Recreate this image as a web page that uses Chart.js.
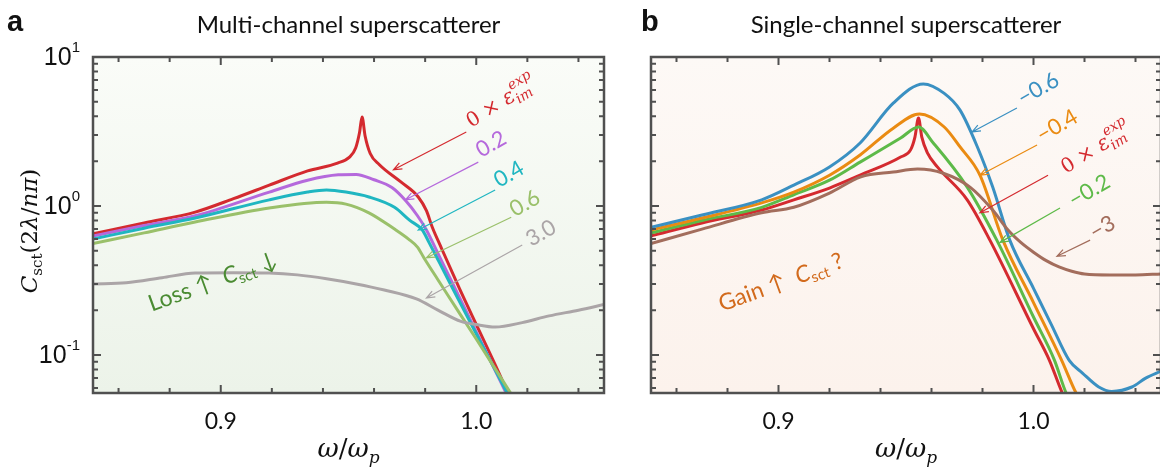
<!DOCTYPE html>
<html>
<head>
<meta charset="utf-8">
<title>Superscatterer spectra</title>
<script src="https://cdn.jsdelivr.net/npm/chart.js@4.4.1/dist/chart.umd.min.js"></script>
<style>
  html, body { margin: 0; padding: 0; background: #fff; overflow: hidden; }
  #wrap { position: relative; width: 1160px; height: 468px; overflow: hidden; }
  #chartA, #chartB { position: absolute; top: 0; }
  #chartA { left: 0; }
  #chartB { left: 620px; }
</style>
</head>
<body>
<div id="wrap">
  <canvas id="chartA" width="620" height="468"></canvas>
  <canvas id="chartB" width="545" height="468"></canvas>
</div>
<script>
// shared axes
const xRange = [0.85, 1.05];
const yRange = [0.0556, 10];
const xTickVals = [0.86, 0.88, 0.9, 0.92, 0.94, 0.96, 0.98, 1.0, 1.02, 1.04];
const xLabelled = [0.9, 1.0];
const yDecades = [-1, 0, 1];

const titleA = 'Multi-channel superscatterer';
const titleB = 'Single-channel superscatterer';

// panel a: loss added (factor x eps_im^exp)
const aRedW = [0.85, 0.87, 0.89, 0.905, 0.919, 0.934, 0.9457, 0.9504, 0.9528, 0.9543, 0.9553, 0.9565, 0.9585, 0.962, 0.9705, 0.9773, 0.9805, 0.9828, 0.9864, 0.9934, 1.0012, 1.009, 1.0135];
const aRedC = [0.65, 0.77, 0.91, 1.12, 1.38, 1.72, 1.94, 2.13, 2.45, 3.1, 3.95, 2.95, 2.25, 1.9, 1.45, 1.15, 0.93, 0.72, 0.52, 0.28, 0.145, 0.075, 0.05];
const aPurW = [0.85, 0.87, 0.89, 0.919, 0.934, 0.946, 0.953, 0.96, 0.967, 0.9725, 0.977, 0.9805, 0.985, 0.992, 1.0, 1.008, 1.0135];
const aPurC = [0.63, 0.74, 0.86, 1.24, 1.49, 1.62, 1.63, 1.50, 1.33, 1.08, 0.86, 0.69, 0.48, 0.273, 0.143, 0.075, 0.048];
const aTelW = [0.85, 0.87, 0.89, 0.919, 0.934, 0.9414, 0.949, 0.958, 0.968, 0.974, 0.9789, 0.9815, 0.9855, 0.991, 1.0, 1.008, 1.0135];
const aTelC = [0.60, 0.71, 0.83, 1.10, 1.24, 1.28, 1.24, 1.15, 0.98, 0.80, 0.69, 0.57, 0.42, 0.275, 0.139, 0.076, 0.05];
const aGrnW = [0.85, 0.87, 0.89, 0.919, 0.9414, 0.949, 0.958, 0.968, 0.9735, 0.977, 0.9795, 0.985, 0.9887, 1.0, 1.008, 1.0145];
const aGrnC = [0.56, 0.66, 0.78, 0.97, 1.06, 1.03, 0.90, 0.70, 0.60, 0.53, 0.45, 0.32, 0.255, 0.128, 0.078, 0.052];
const aGryW = [0.85, 0.863, 0.877, 0.89, 0.905, 0.919, 0.93, 0.9414, 0.953, 0.964, 0.9766, 0.985, 0.994, 1.0, 1.0074, 1.018, 1.0285, 1.04, 1.05];
const aGryC = [0.300, 0.305, 0.33, 0.355, 0.357, 0.355, 0.345, 0.325, 0.30, 0.273, 0.238, 0.20, 0.168, 0.16, 0.154, 0.165, 0.183, 0.20, 0.218];

// panel b: gain added
const bBluW = [0.85, 0.87, 0.8934, 0.906, 0.92, 0.932, 0.945, 0.9568, 0.965, 0.9712, 0.978, 0.984, 0.9907, 1.0, 1.007, 1.014, 1.0192, 1.0256, 1.0307, 1.0386, 1.044, 1.05];
const bBluC = [0.72, 0.87, 1.10, 1.38, 1.83, 2.65, 4.9, 6.6, 5.7, 4.4, 2.49, 1.34, 0.59, 0.28, 0.16, 0.092, 0.0757, 0.061, 0.057, 0.061, 0.070, 0.078];
const bOrgW = [0.85, 0.87, 0.8934, 0.906, 0.92, 0.932, 0.945, 0.9553, 0.965, 0.9712, 0.979, 0.988, 1.0, 1.011, 1.0167, 1.02];
const bOrgC = [0.69, 0.83, 1.05, 1.24, 1.61, 2.2, 3.33, 4.14, 3.39, 2.49, 1.61, 0.59, 0.225, 0.0925, 0.0556, 0.045];
const bGrnW = [0.85, 0.87, 0.8934, 0.906, 0.92, 0.932, 0.9479, 0.9549, 0.9607, 0.974, 0.9856, 1.0, 1.0082, 1.0128, 1.016];
const bGrnC = [0.66, 0.80, 0.98, 1.19, 1.49, 1.97, 2.86, 3.39, 2.65, 1.34, 0.59, 0.18, 0.0925, 0.0556, 0.045];
const bRedW = [0.85, 0.87, 0.8934, 0.906, 0.92, 0.932, 0.9479, 0.9518, 0.9535, 0.9549, 0.9562, 0.9584, 0.9623, 0.974, 0.9829, 1.0, 1.0062, 1.0113, 1.015];
const bRedC = [0.63, 0.77, 0.94, 1.10, 1.32, 1.61, 2.13, 2.38, 2.9, 3.9, 2.9, 2.27, 1.83, 1.10, 0.59, 0.15, 0.0925, 0.0556, 0.042];
const bBrnW = [0.85, 0.87, 0.8934, 0.906, 0.92, 0.9323, 0.945, 0.9545, 0.9646, 0.9751, 0.984, 0.99, 0.995, 1.0, 1.005, 1.01, 1.015, 1.02, 1.03, 1.04, 1.05];
const bBrnC = [0.56, 0.70, 0.90, 0.98, 1.22, 1.57, 1.69, 1.77, 1.66, 1.34, 0.94, 0.69, 0.57, 0.49, 0.43, 0.39, 0.365, 0.35, 0.345, 0.345, 0.35];

const SANS = 'Lato, "Open Sans", sans-serif';
const SERIF = '"DejaVu Serif", "Liberation Serif", serif';
const ARIAL = '"Liberation Sans", Arial, sans-serif';
const INK = '#111';
const FRAME = '#505050';

const C = {
  red: '#d42a2f', purple: '#b569dc', teal: '#1fb6c1', lgreen: '#9ac06a', gray: '#aba5a7',
  blue: '#3a90c2', orange: '#ea8b12', green: '#5dba48', brown: '#a36d5c',
  loss: '#4a8b32', gain: '#d26a1c'
};

const NUM = '22px ' + SANS;
const epsRuns = [
  { t: '0 × ', font: '20px ' + SERIF },
  { t: 'ε', font: 'italic 21px ' + SERIF },
  { t: 'im', font: 'italic 14px ' + SERIF, dy: 5, stay: true },
  { t: 'exp', font: 'italic 14px ' + SERIF, dy: -11 }
];
function csctRuns(tail) {
  return [
    { t: 'C', font: 'italic 23px ' + SANS },
    { t: 'sct', font: '15px ' + SANS, dy: 4 },
    { t: tail, font: '23px ' + SANS }
  ];
}
const xTitleRuns = [
  { t: 'ω', font: 'italic 26px ' + SERIF },
  { t: '/', font: '26px ' + SERIF },
  { t: 'ω', font: 'italic 26px ' + SERIF },
  { t: 'p', font: 'italic 17px ' + SERIF, dy: 6 }
];
const yTitleRuns = [
  { t: 'C', font: 'italic 23px ' + SERIF },
  { t: 'sct', font: '15px ' + SERIF, dy: 5 },
  { t: '(2', font: '23px ' + SERIF },
  { t: 'λ', font: 'italic 23px ' + SERIF },
  { t: '/', font: '23px ' + SERIF },
  { t: 'nπ', font: 'italic 23px ' + SERIF },
  { t: ')', font: '23px ' + SERIF }
];

function pts(w, c) {
  return w.map((x, i) => ({ x: x, y: c[i] }));
}

function curve(label, w, c, color) {
  return {
    label: label,
    data: pts(w, c),
    borderColor: color,
    borderWidth: 3,
    pointRadius: 0,
    fill: false,
    cubicInterpolationMode: 'monotone'
  };
}

function runsWidth(ctx, runs) {
  let w = 0;
  runs.forEach(r => {
    ctx.font = r.font;
    if (!r.stay) w += ctx.measureText(r.t).width;
  });
  return w;
}

function drawRuns(ctx, runs, x, y, angle, color, center) {
  ctx.save();
  ctx.translate(x, y);
  ctx.rotate(angle * Math.PI / 180);
  ctx.fillStyle = color;
  ctx.textAlign = 'left';
  ctx.textBaseline = 'alphabetic';
  let cx = center ? -runsWidth(ctx, runs) / 2 : 0;
  runs.forEach(r => {
    ctx.font = r.font;
    ctx.fillText(r.t, cx, r.dy || 0);
    if (!r.stay) cx += ctx.measureText(r.t).width;
  });
  ctx.restore();
}

function arrow(ctx, x1, y1, x2, y2, color) {
  const a = Math.atan2(y2 - y1, x2 - x1);
  const h = 9, s = 0.38;
  ctx.save();
  ctx.strokeStyle = color;
  ctx.lineWidth = 1.2;
  ctx.beginPath();
  ctx.moveTo(x1, y1);
  ctx.lineTo(x2, y2);
  ctx.moveTo(x2 - h * Math.cos(a - s), y2 - h * Math.sin(a - s));
  ctx.lineTo(x2, y2);
  ctx.lineTo(x2 - h * Math.cos(a + s), y2 - h * Math.sin(a + s));
  ctx.stroke();
  ctx.restore();
}

const panelDeco = {
  id: 'panelDeco',
  beforeDraw(chart, args, o) {
    const ctx = chart.ctx, a = chart.chartArea;
    const g = ctx.createLinearGradient(0, a.top, 0, a.bottom);
    g.addColorStop(0, o.bgTop);
    g.addColorStop(1, o.bgBottom);
    ctx.save();
    ctx.fillStyle = g;
    ctx.fillRect(a.left, a.top, a.right - a.left, a.bottom - a.top);
    ctx.restore();
  },
  afterDatasetsDraw(chart, args, o) {
    const ctx = chart.ctx, a = chart.chartArea;
    const xs = chart.scales.x, ys = chart.scales.y;

    o.arrows.forEach(n => {
      arrow(ctx, xs.getPixelForValue(n.from[0]), ys.getPixelForValue(n.from[1]),
        xs.getPixelForValue(n.to[0]), ys.getPixelForValue(n.to[1]), n.color);
    });
    o.notes.forEach(n => {
      drawRuns(ctx, n.runs, xs.getPixelForValue(n.at[0]), ys.getPixelForValue(n.at[1]), n.angle, n.color, false);
    });

    // inward ticks on all four sides
    ctx.save();
    ctx.strokeStyle = FRAME;
    ctx.lineWidth = 2;
    ctx.beginPath();
    xs.ticks.forEach(t => {
      const v = t.value;
      const px = xs.getPixelForValue(v);
      const len = xLabelled.some(m => Math.abs(m - v) < 1e-6) ? 8 : 5;
      ctx.moveTo(px, a.bottom);
      ctx.lineTo(px, a.bottom - len);
      ctx.moveTo(px, a.top);
      ctx.lineTo(px, a.top + len);
    });
    for (let k = -2; k <= 1; k++) {
      for (let m = 1; m <= 9; m++) {
        const v = m * Math.pow(10, k);
        if (v < yRange[0] * 1.02 || v > yRange[1] * 0.99) continue;
        const py = ys.getPixelForValue(v);
        const len = m === 1 ? 8 : 5;
        ctx.moveTo(a.left, py);
        ctx.lineTo(a.left + len, py);
        ctx.moveTo(a.right, py);
        ctx.lineTo(a.right - len, py);
      }
    }
    ctx.stroke();
    ctx.lineWidth = 2.5;
    ctx.strokeRect(a.left, a.top, a.right - a.left, a.bottom - a.top);
    ctx.restore();
  },
  afterDraw(chart, args, o) {
    const ctx = chart.ctx, a = chart.chartArea;
    const ys = chart.scales.y;
    const mid = (a.left + a.right) / 2;

    ctx.save();
    ctx.fillStyle = INK;
    ctx.textBaseline = 'alphabetic';
    ctx.textAlign = 'left';
    ctx.font = 'bold 29px ' + ARIAL;
    ctx.fillText(o.letter, o.letterX, 31);
    ctx.textAlign = 'center';
    ctx.font = '24px ' + SANS;
    ctx.fillText(o.title, mid, 33);

    if (o.yLabels) {
      yDecades.forEach(k => {
        const py = ys.getPixelForValue(Math.pow(10, k));
        const exp = String(k);
        ctx.font = '15px ' + ARIAL;
        const ew = ctx.measureText(exp).width;
        const right = a.left - 13;
        ctx.textBaseline = 'middle';
        ctx.textAlign = 'right';
        ctx.font = '25px ' + ARIAL;
        ctx.fillText('10', right - ew, py + 1);
        ctx.textAlign = 'left';
        ctx.font = '15px ' + ARIAL;
        ctx.fillText(exp, right - ew, py - 9);
      });
    }
    ctx.restore();

    drawRuns(ctx, xTitleRuns, mid, 457, 0, INK, true);
    if (o.yLabels) drawRuns(ctx, yTitleRuns, 37, 231, -90, INK, true);
  }
};

function makePanel(id, datasets, deco, areaLeft, rightPad) {
  return new Chart(document.getElementById(id), {
    type: 'line',
    data: { datasets: datasets },
    plugins: [panelDeco],
    options: {
      responsive: false,
      animation: false,
      devicePixelRatio: 1,
      events: [],
      layout: { padding: { top: 57, right: rightPad, left: 0, bottom: 0 } },
      plugins: {
        legend: { display: false },
        tooltip: { enabled: false },
        panelDeco: deco
      },
      scales: {
        x: {
          type: 'linear',
          min: xRange[0],
          max: xRange[1],
          grid: { display: false, drawTicks: false },
          border: { display: false },
          afterBuildTicks: s => { s.ticks = xTickVals.map(v => ({ value: v })); },
          ticks: {
            autoSkip: false,
            maxRotation: 0,
            padding: 15,
            color: INK,
            font: { family: 'Lato', size: 23 },
            callback: v => {
              const hit = xLabelled.find(m => Math.abs(m - v) < 1e-6);
              return hit === undefined ? '' : hit.toFixed(1);
            }
          },
          afterFit: s => { s.height = 75; }
        },
        y: {
          type: 'logarithmic',
          min: yRange[0],
          max: yRange[1],
          grid: { display: false, drawTicks: false },
          border: { display: false },
          ticks: { display: false },
          afterFit: s => { s.width = areaLeft; }
        }
      }
    }
  });
}

makePanel('chartA', [
  curve('3.0', aGryW, aGryC, C.gray),
  curve('0.6', aGrnW, aGrnC, C.lgreen),
  curve('0.4', aTelW, aTelC, C.teal),
  curve('0.2', aPurW, aPurC, C.purple),
  curve('0', aRedW, aRedC, C.red)
], {
  bgTop: '#fafcf8', bgBottom: '#ecf3e9',
  letter: 'a', letterX: 7, title: titleA, yLabels: true,
  arrows: [
    { from: [0.9961, 3.14], to: [0.9676, 1.75], color: C.red },
    { from: [1.0008, 1.97], to: [0.9723, 1.10], color: C.purple },
    { from: [1.0074, 1.28], to: [0.9773, 0.69], color: C.teal },
    { from: [1.0137, 0.84], to: [0.9805, 0.45], color: C.lgreen },
    { from: [1.018, 0.547], to: [0.9805, 0.241], color: C.gray }
  ],
  notes: [
    { at: [0.998, 3.34], angle: -32, color: C.red, runs: epsRuns },
    { at: [1.002, 2.10], angle: -30, color: C.purple, runs: [{ t: '0.2', font: NUM }] },
    { at: [1.009, 1.32], angle: -30, color: C.teal, runs: [{ t: '0.4', font: NUM }] },
    { at: [1.0152, 0.84], angle: -30, color: C.lgreen, runs: [{ t: '0.6', font: NUM }] },
    { at: [1.0215, 0.53], angle: -30, color: C.gray, runs: [{ t: '3.0', font: NUM }] },
    { at: [0.873, 0.195], angle: -20, color: C.loss, runs: [{ t: 'Loss ↑  ', font: '23px ' + SANS }].concat(csctRuns(' ↓')) }
  ]
}, 93, 16);

makePanel('chartB', [
  curve('-3', bBrnW, bBrnC, C.brown),
  curve('-0.6', bBluW, bBluC, C.blue),
  curve('-0.4', bOrgW, bOrgC, C.orange),
  curve('-0.2', bGrnW, bGrnC, C.green),
  curve('0', bRedW, bRedC, C.red)
], {
  bgTop: '#fdf9f6', bgBottom: '#fcf2ec',
  letter: 'b', letterX: 21, title: titleB, yLabels: false,
  arrows: [
    { from: [0.9935, 4.55], to: [0.9759, 3.14], color: C.blue },
    { from: [1.0014, 2.57], to: [0.979, 1.61], color: C.orange },
    { from: [1.0057, 1.61], to: [0.979, 0.90], color: C.red },
    { from: [1.0104, 0.97], to: [0.9869, 0.57], color: C.green },
    { from: [1.0222, 0.59], to: [1.0092, 0.46], color: C.brown }
  ],
  notes: [
    { at: [0.9959, 4.69], angle: -30, color: C.blue, runs: [{ t: '−0.6', font: NUM }] },
    { at: [1.0033, 2.65], angle: -30, color: C.orange, runs: [{ t: '−0.4', font: NUM }] },
    { at: [1.0127, 1.64], angle: -32, color: C.red, runs: epsRuns },
    { at: [1.0159, 0.97], angle: -30, color: C.green, runs: [{ t: '−0.2', font: NUM }] },
    { at: [1.0241, 0.59], angle: -30, color: C.brown, runs: [{ t: '−3', font: NUM }] },
    { at: [0.8778, 0.195], angle: -20, color: C.gain, runs: [{ t: 'Gain ↑  ', font: '23px ' + SANS }].concat(csctRuns(' ?')) }
  ]
}, 31, 4);
</script>
</body>
</html>
